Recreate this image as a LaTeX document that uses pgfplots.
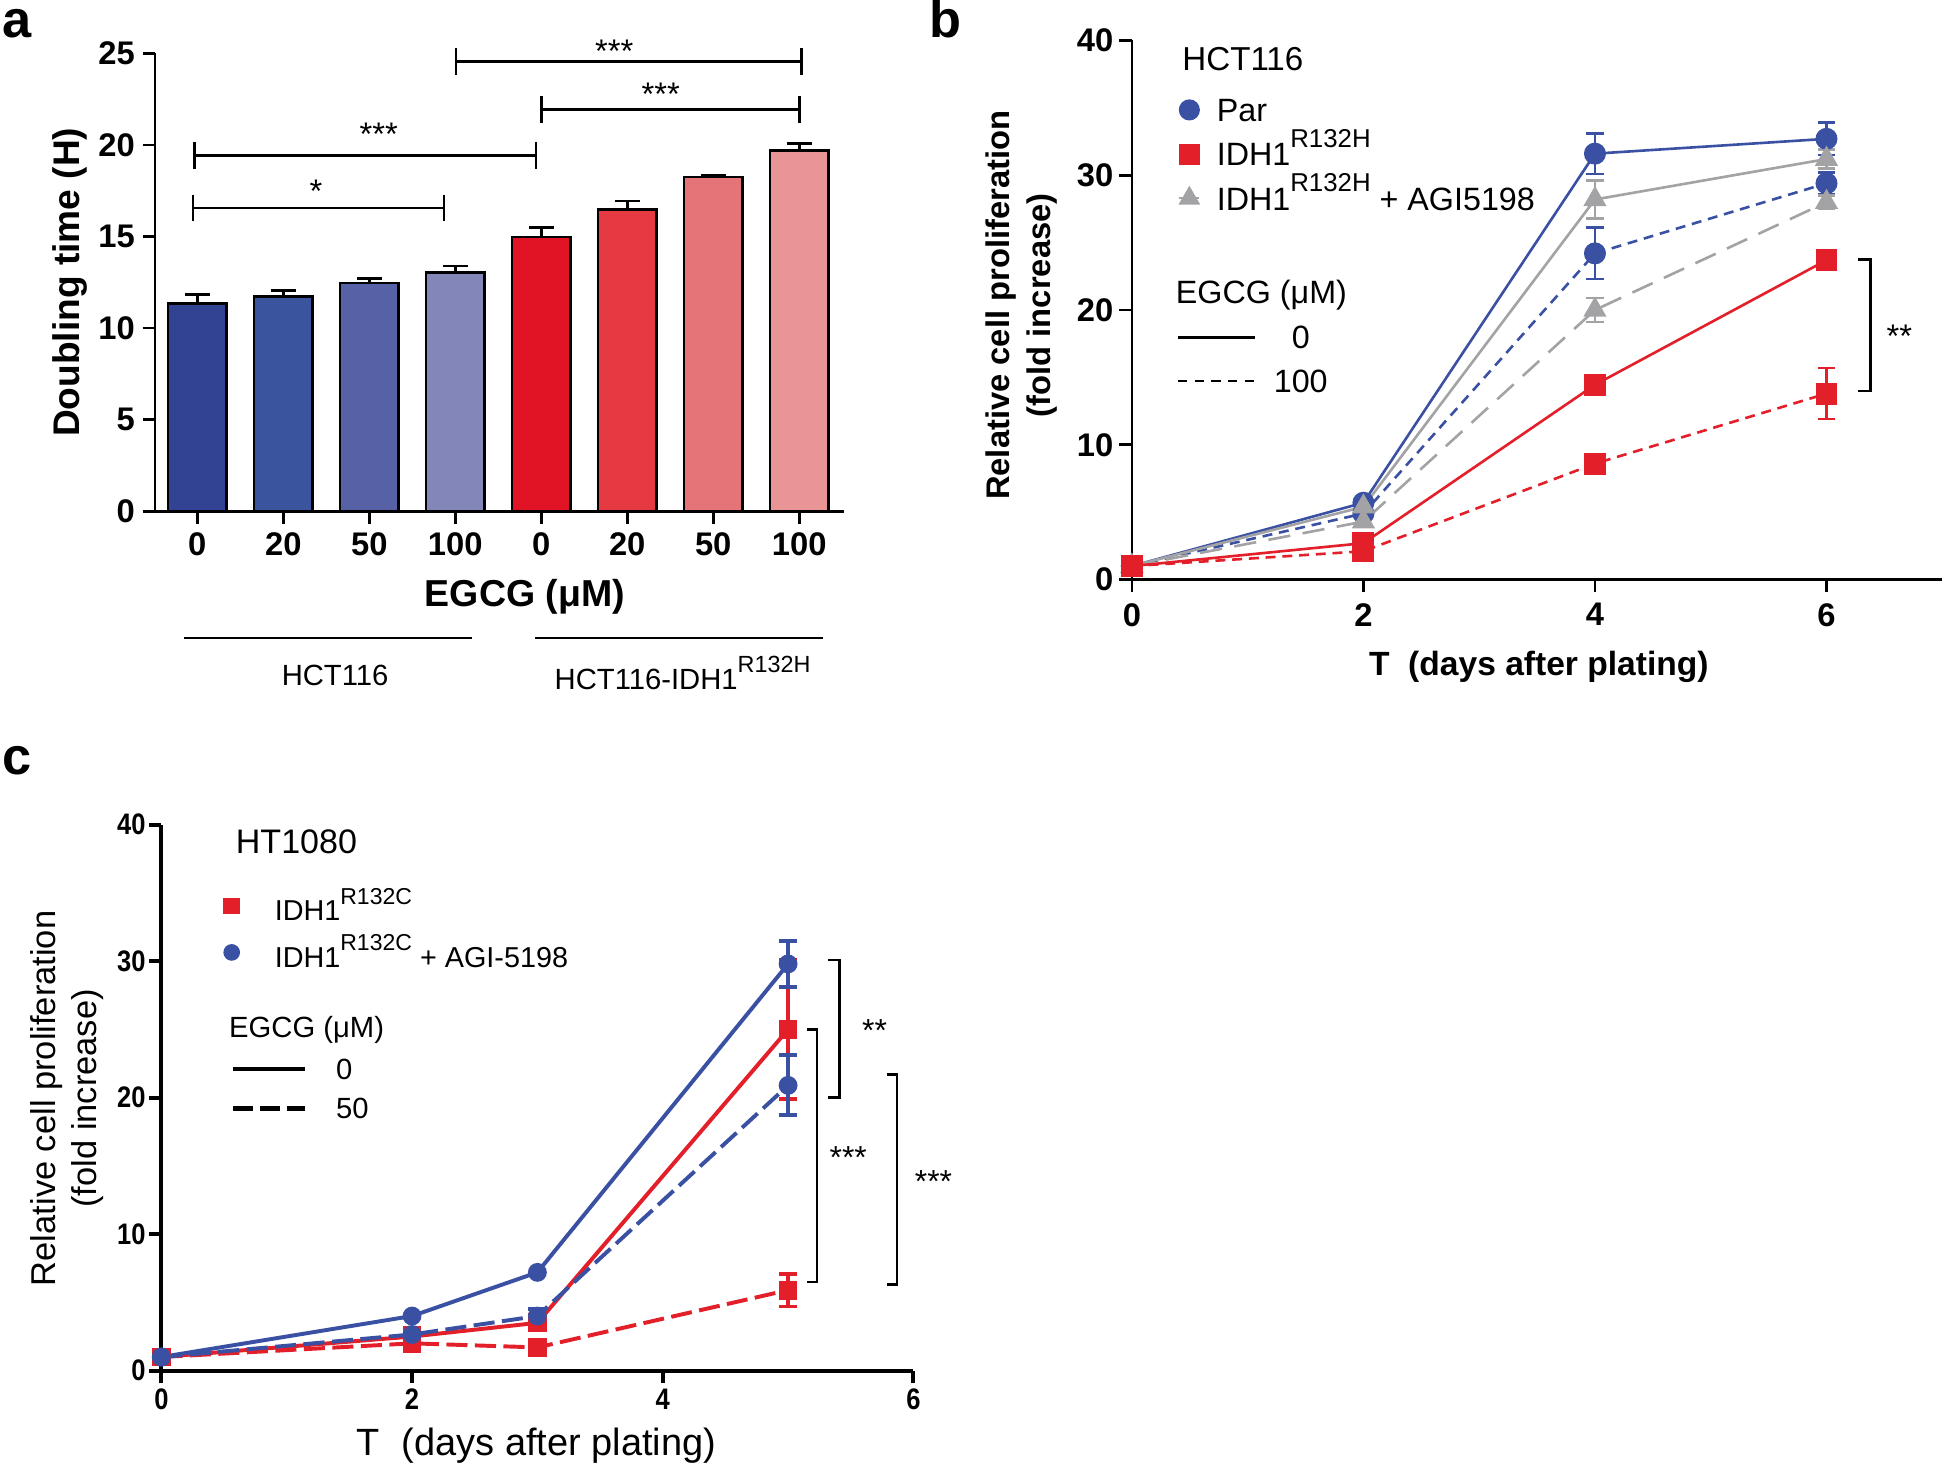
\documentclass[border=0pt]{standalone}
\usepackage{fontspec}
\setmainfont{Liberation Sans}
\newfontfamily\condfont[FakeStretch=0.86]{Liberation Sans}
\usepackage{graphicx}
\usepackage{pgfplots}
\pgfplotsset{compat=1.18}

\newcommand{\fs}[1]{\fontsize{#1}{#1}\selectfont}
\newcommand{\sups}[1]{\raisebox{0.58em}{\scalebox{0.8}{#1}}}

% bar colours (panel a)
\definecolor{bA}{HTML}{334393}
\definecolor{bB}{HTML}{3A559E}
\definecolor{bC}{HTML}{5761A6}
\definecolor{bD}{HTML}{8386B9}
\definecolor{rA}{HTML}{E01424}
\definecolor{rB}{HTML}{E53A42}
\definecolor{rC}{HTML}{E57478}
\definecolor{rD}{HTML}{E99497}
% line colours (panels b, c)
\definecolor{cblue}{HTML}{3A51A3}
\definecolor{cred}{HTML}{E3202A}
\definecolor{cgray}{HTML}{A3A3A6}

\tikzset{sigstar/.style={font=\fs{7.5pt}, anchor=base, yshift=-4.3pt, inner sep=0pt}}

\pgfplotsset{
  base/.style={
    scale only axis, clip=false,
    axis lines*=left, axis line style={-, line width=0.6pt},
    tick align=outside, major tick length=0.1cm,
    tick style={black, line width=0.6pt},
    /pgf/number format/assume math mode=true,
  },
  bara/.style={ybar, bar width=0.47cm, bar shift=0pt, draw=black, line width=0.6pt,
    error bars/y dir=plus, error bars/y explicit,
    error bars/error bar style={black, line width=0.6pt},
    error bars/error mark options={rotate=90, black, line width=0.6pt, mark size=0.1cm}},
  pb/.style={forget plot, line width=0.6pt, mark options={solid},
    error bars/y dir=both, error bars/y explicit,
    error bars/error bar style={solid, line width=0.6pt},
    error bars/error mark options={rotate=90, solid, line width=0.6pt, mark size=0.072cm}},
  pc/.style={forget plot, line width=0.9pt, mark size=0.06cm, mark options={solid},
    error bars/y dir=both, error bars/y explicit,
    error bars/error bar style={solid, line width=0.9pt},
    error bars/error mark options={rotate=90, solid, line width=0.9pt, mark size=0.075cm}},
}

\newcommand{\hbr}[3]{%
  \draw[line width=0.6pt] (axis cs:#1,#3) -- (axis cs:#2,#3);
  \draw[line width=0.6pt] (axis cs:#1,#3) ++(0cm,0.107cm) -- ++(0cm,-0.214cm);
  \draw[line width=0.6pt] (axis cs:#2,#3) ++(0cm,0.107cm) -- ++(0cm,-0.214cm);}
\newcommand{\vbr}[4]{%
  \draw[line width=0.6pt] (axis cs:#1,#3) -- (axis cs:#2,#3) -- (axis cs:#2,#4) -- (axis cs:#1,#4);}

\begin{document}
\begin{tikzpicture}
\path[use as bounding box] (0,0) rectangle (15.68,11.84);

% ---------------- panel a ----------------
\node[font=\bfseries\fs{12pt}, anchor=base west, inner sep=0pt] at (0.01,11.54) {a};
\begin{axis}[base,
  at={(1.25cm,7.72cm)}, anchor=south west,
  width=5.55cm, height=3.69cm,
  xmin=-0.49, xmax=7.52, ymin=0, ymax=25,
  xtick={0,...,7}, xticklabels={0,20,50,100,0,20,50,100},
  ytick={0,5,...,25},
  ticklabel style={font=\bfseries\fs{7.5pt}},
  xticklabel style={inner sep=1.9pt},
  yticklabel style={inner sep=1.6pt},
]
\addplot[fill=bA, bara] coordinates {(0,11.35) +- (0,0.5)};
\addplot[fill=bB, bara] coordinates {(1,11.72) +- (0,0.33)};
\addplot[fill=bC, bara] coordinates {(2,12.47) +- (0,0.23)};
\addplot[fill=bD, bara] coordinates {(3,13.03) +- (0,0.37)};
\addplot[fill=rA, bara] coordinates {(4,14.98) +- (0,0.52)};
\addplot[fill=rB, bara] coordinates {(5,16.48) +- (0,0.45)};
\addplot[fill=rC, bara] coordinates {(6,18.24) +- (0,0.12)};
\addplot[fill=rD, bara] coordinates {(7,19.69) +- (0,0.40)};

\hbr{-0.05}{2.87}{16.56}
\hbr{-0.03}{3.94}{19.41}
\hbr{4.0}{7.0}{21.92}
\hbr{3.01}{7.03}{24.57}
\node[sigstar] at (axis cs:1.38,17.9) {*};
\node[sigstar] at (axis cs:2.11,21.0) {***};
\node[sigstar] at (axis cs:5.39,23.15) {***};
\node[sigstar] at (axis cs:4.85,25.5) {***};
\end{axis}
\node[font=\bfseries\fs{8.5pt}, rotate=90] at (0.56,9.565) {Doubling time (H)};
\node[font=\bfseries\fs{8.6pt}] at (4.23,7.03) {EGCG (μM)};
\draw[line width=0.6pt] (1.48,6.70) -- (3.80,6.70);
\draw[line width=0.6pt] (4.31,6.70) -- (6.63,6.70);
\node[font=\fs{6.7pt}] at (2.70,6.40) {HCT116};
\node[font=\fs{6.7pt}] at (5.50,6.42) {HCT116-IDH1\sups{R132H}};

% ---------------- panel b ----------------
\node[font=\bfseries\fs{12pt}, anchor=base west, inner sep=0pt] at (7.48,11.54) {b};
\begin{axis}[base,
  at={(9.12cm,7.17cm)}, anchor=south west,
  width=6.53cm, height=4.344cm,
  xmin=0, xmax=7, ymin=0, ymax=40,
  xtick={0,2,4,6}, ytick={0,10,...,40},
  ticklabel style={font=\bfseries\fs{7.5pt}},
  xticklabel style={inner sep=2.4pt},
  yticklabel style={inner sep=1.2pt},
  legend style={draw=none, fill=none, inner sep=0pt, outer sep=0pt,
    at={(0.0576,0.9068)}, anchor=north west, font=\fs{7.4pt},
    row sep=0.046cm, column sep=0.134cm,
    nodes={inner sep=0pt, text height=0.25cm, text depth=0.06cm}},
  legend cell align=left,
  legend image code/.code={\path (0cm,0cm) -- (0.16cm,0cm);
    \draw[#1] plot coordinates {(0.08cm,0cm)};},
]
% Par, EGCG 0 / 100
\addplot[cblue, mark=*, mark size=0.078cm, pb]
  coordinates {(0,1) (2,5.7) (4,31.6) +- (0,1.5) (6,32.7) +- (0,1.2)};
\addplot[cblue, mark=*, mark size=0.078cm, dash pattern=on 0.08cm off 0.055cm, pb]
  coordinates {(0,1) (2,4.9) (4,24.2) +- (0,1.9) (6,29.4) +- (0,0.8)};
% IDH1 R132H + AGI5198, EGCG 0 / 100
\addplot[cgray, mark=triangle*, mark size=0.087cm, pb]
  coordinates {(0,1) (2,5.4) (4,28.2) +- (0,1.4) (6,31.2) +- (0,0.7)};
\addplot[cgray, mark=triangle*, mark size=0.087cm, dash pattern=on 0.18cm off 0.1cm, pb]
  coordinates {(0,1) (2,4.3) (4,20.0) +- (0,0.9) (6,28.0) +- (0,0.5)};
% IDH1 R132H, EGCG 0 / 100
\addplot[cred, mark=square*, mark size=0.078cm, pb]
  coordinates {(0,1) (2,2.7) +- (0,0.3) (4,14.45) (6,23.7) +- (0,0.3)};
\addplot[cred, mark=square*, mark size=0.078cm, dash pattern=on 0.08cm off 0.055cm, pb]
  coordinates {(0,1) (2,2.1) (4,8.6) (6,13.8) +- (0,1.9)};

\addlegendimage{cblue, mark=*, mark size=0.078cm}
\addlegendentry{Par}
\addlegendimage{cred, mark=square*, mark size=0.078cm}
\addlegendentry{IDH1\sups{R132H}}
\addlegendimage{cgray, mark=triangle*, mark size=0.087cm}
\addlegendentry{IDH1\sups{R132H} + AGI5198}

\vbr{6.27}{6.38}{23.76}{14.0}
\node[sigstar] at (axis cs:6.63,18.6) {**};
\end{axis}
\begin{axis}[at={(9.12cm,7.17cm)}, anchor=south west, scale only axis,
  width=6.53cm, height=4.344cm, xmin=0, xmax=1, ymin=0, ymax=1, hide axis,
  legend style={draw=none, fill=none, inner sep=0pt, outer sep=0pt,
    at={(0.0551,0.4855)}, anchor=north west, font=\fs{7.4pt},
    row sep=0.038cm, column sep=0.14cm,
    nodes={inner sep=0pt, text height=0.25cm, text depth=0.064cm,
      text width=0.44cm, align=center}},
  legend image code/.code={\draw[#1] (0cm,0cm) -- (0.62cm,0cm);},
]
\addlegendimage{black, line width=0.6pt}
\addlegendentry{0}
\addlegendimage{black, line width=0.6pt, dash pattern=on 0.075cm off 0.06cm}
\addlegendentry{100}
\end{axis}
\node[font=\fs{7.6pt}, anchor=west, inner sep=0pt] at (9.52,11.362) {HCT116};
\node[font=\fs{7.4pt}, anchor=west, inner sep=0pt] at (9.468,9.463) {EGCG (μM)};
\node[font=\bfseries\fontsize{7.5pt}{9.4pt}\selectfont, rotate=90, align=center]
  at (8.23,9.38) {Relative cell proliferation\\(fold increase)};
\node[font=\bfseries\fs{7.7pt}] at (12.40,6.47) {T\hspace{0.55em}(days after plating)};

% ---------------- panel c ----------------
\node[font=\bfseries\fs{12pt}, anchor=base west, inner sep=0pt] at (0.01,5.60) {c};
\begin{axis}[base,
  at={(1.30cm,0.796cm)}, anchor=south west,
  width=6.06cm, height=4.399cm,
  xmin=0, xmax=6, ymin=0, ymax=40,
  xtick={0,2,4,6}, ytick={0,10,...,40},
  axis line style={-, line width=0.9pt},
  tick style={black, line width=0.9pt},
  ticklabel style={font=\condfont\bfseries\fs{6.8pt}},
  xticklabel style={inner sep=1.1pt},
  yticklabel style={inner sep=0.6pt},
  legend style={draw=none, fill=none, inner sep=0pt, outer sep=0pt,
    at={(0.0825,0.892)}, anchor=north west, font=\fs{6.6pt},
    row sep=0.014cm, column sep=0.28cm,
    nodes={inner sep=0pt, text height=0.3cm, text depth=0.06cm}},
  legend cell align=left,
  legend image code/.code={\path (0cm,0cm) -- (0.12cm,0cm);
    \draw[#1] plot coordinates {(0.06cm,0cm)};},
]
% IDH1 R132C, EGCG 0 / 50
\addplot[cred, mark=square*, pc]
  coordinates {(0,1) (2,2.5) +- (0,0.6) (3,3.5) +- (0,0.4) (5,25.0) +- (0,5.1)};
\addplot[cred, mark=square*, dash pattern=on 0.17cm off 0.06cm, pc]
  coordinates {(0,1) (2,2.0) +- (0,0.3) (3,1.7) +- (0,0.3) (5,5.9) +- (0,1.2)};
% IDH1 R132C + AGI-5198, EGCG 0 / 50
\addplot[cblue, mark=*, pc]
  coordinates {(0,1) (2,4.0) (3,7.2) (5,29.8) +- (0,1.7)};
\addplot[cblue, mark=*, dash pattern=on 0.17cm off 0.06cm, pc]
  coordinates {(0,1) (2,2.65) +- (0,0.3) (3,4.0) +- (0,0.5) (5,20.9) +- (0,2.2)};

\addlegendimage{cred, mark=square*, mark size=0.06cm}
\addlegendentry{IDH1\sups{R132C}}
\addlegendimage{cblue, mark=*, mark size=0.06cm}
\addlegendentry{IDH1\sups{R132C} + AGI-5198}

\vbr{5.32}{5.41}{30.1}{20.0}
\node[sigstar, font=\fs{7.3pt}] at (axis cs:5.69,25.5) {**};
\vbr{5.15}{5.23}{25.0}{6.5}
\node[sigstar, font=\fs{7.3pt}] at (axis cs:5.48,16.2) {***};
\vbr{5.79}{5.87}{21.7}{6.3}
\node[sigstar, font=\fs{7.3pt}] at (axis cs:6.16,14.4) {***};
\end{axis}
\begin{axis}[at={(1.30cm,0.796cm)}, anchor=south west, scale only axis,
  width=6.06cm, height=4.399cm, xmin=0, xmax=1, ymin=0, ymax=1, hide axis,
  legend style={draw=none, fill=none, inner sep=0pt, outer sep=0pt,
    at={(0.0924,0.583)}, anchor=north west, font=\fs{6.7pt},
    row sep=0.042cm, column sep=0.23cm,
    nodes={inner sep=0pt, text height=0.22cm, text depth=0.052cm}},
  legend cell align=left,
  legend image code/.code={\draw[#1] (0cm,0cm) -- (0.58cm,0cm);},
]
\addlegendimage{black, line width=0.9pt}
\addlegendentry{0}
\addlegendimage{black, line width=1.1pt, dash pattern=on 0.16cm off 0.055cm}
\addlegendentry{50}
\end{axis}
\node[font=\fs{7.8pt}, anchor=west, inner sep=0pt] at (1.894,5.06) {HT1080};
\node[font=\fs{6.7pt}, anchor=west, inner sep=0pt] at (1.84,3.54) {EGCG (μM)};
\node[font=\fontsize{7.9pt}{9.25pt}\selectfont, rotate=90, align=center]
  at (0.54,2.99) {Relative cell proliferation\\(fold increase)};
\node[font=\fs{8.7pt}] at (4.32,0.19) {T\hspace{0.6em}(days after plating)};
\end{tikzpicture}
\end{document}
